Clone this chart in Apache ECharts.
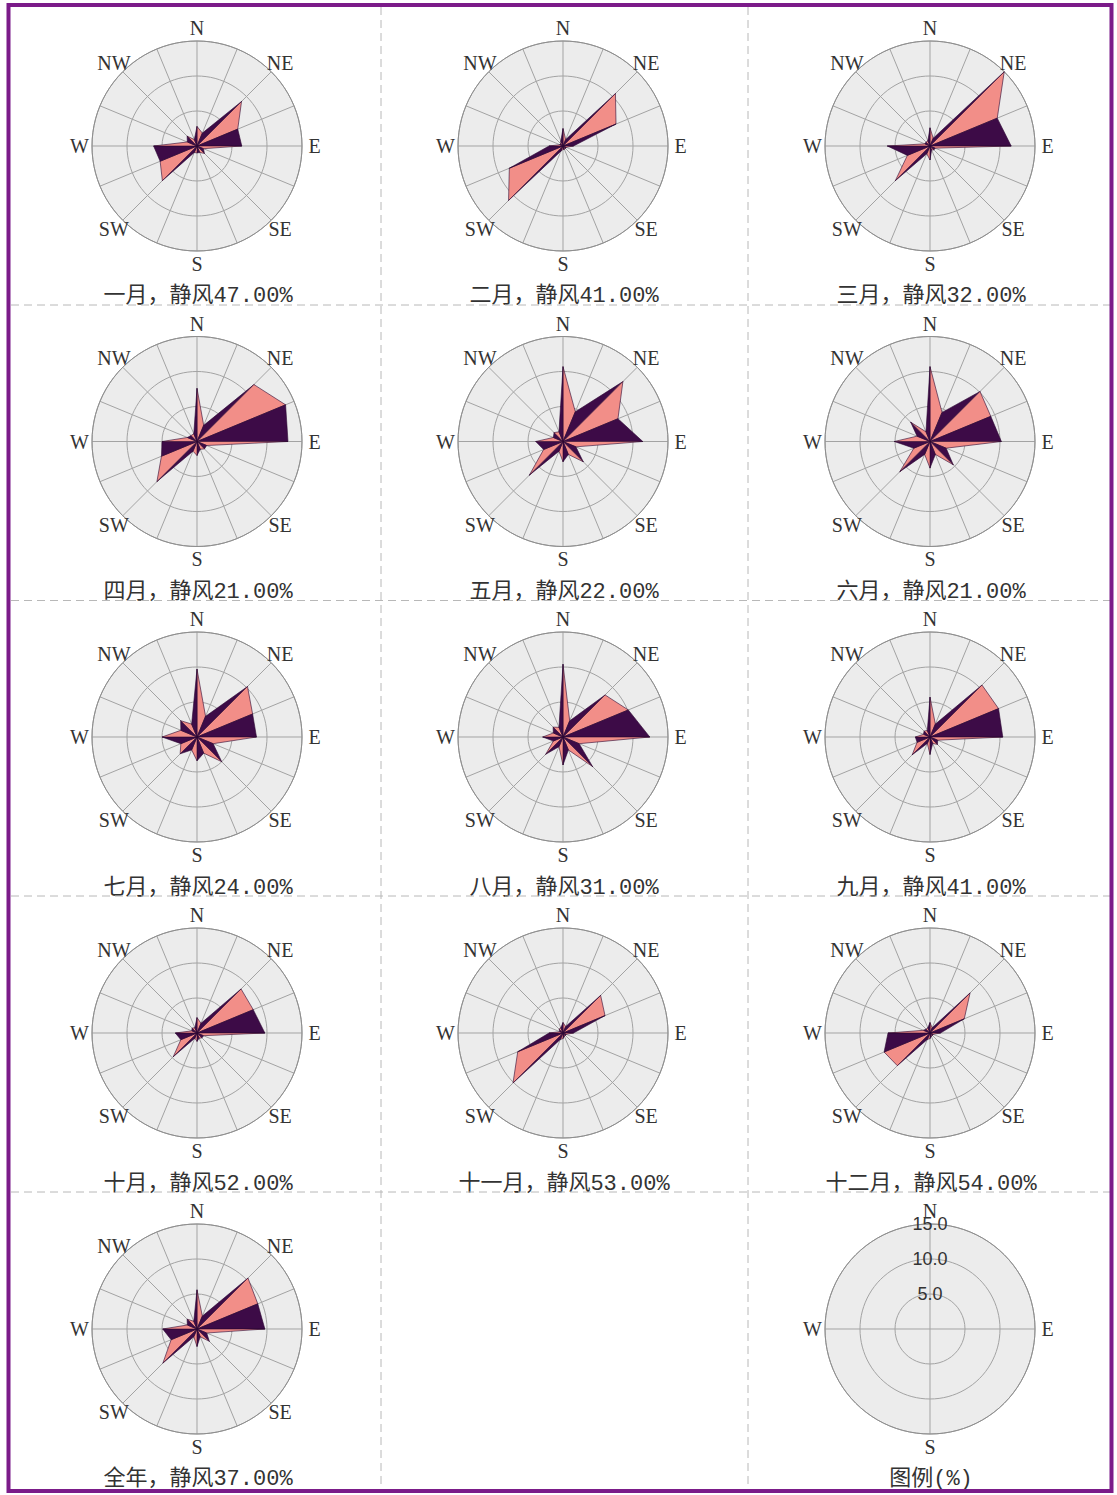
<!DOCTYPE html>
<html>
<head>
<meta charset="utf-8">
<script src="https://cdn.jsdelivr.net/npm/echarts@6/dist/echarts.min.js"></script>
<style>
  html, body { margin: 0; padding: 0; background: #ffffff; }
  #chart { width: 1117px; height: 1495px; }
</style>
</head>
<body>
<div id="chart"></div>
<script>
// 16 compass sectors, clockwise from north
const DIRECTIONS = ['N', 'NNE', 'NE', 'ENE', 'E', 'ESE', 'SE', 'SSE',
                    'S', 'SSW', 'SW', 'WSW', 'W', 'WNW', 'NW', 'NNW'];
const LABELED = ['N', 'NE', 'E', 'SE', 'S', 'SW', 'W', 'NW'];
const LEGEND_LABELED = ['N', 'E', 'S', 'W'];

// panel names and calm-wind share (%)
const PERIODS = ['一月', '二月', '三月', '四月', '五月', '六月', '七月',
                 '八月', '九月', '十月', '十一月', '十二月', '全年'];
const CALM = [47, 41, 32, 21, 22, 21, 24, 31, 41, 52, 53, 54, 37];

// wind direction frequency (%) per sector, N..NNW
const JAN = [2.8, 2.0, 9.0, 6.3, 6.4, 1.0, 1.5, 1.0, 1.0, 1.0, 7.0, 5.7, 6.2, 1.5, 2.0, 1.0];
const FEB = [2.5, 1.0, 10.6, 8.2, 1.5, 0.5, 0.5, 0.5, 0.5, 0.8, 11.0, 8.3, 2.0, 0.5, 0.5, 0.8];
const MAR = [2.6, 1.2, 15.0, 10.4, 11.6, 0.8, 0.8, 0.6, 2.0, 1.2, 7.0, 3.5, 6.1, 0.8, 0.8, 0.8];
const APR = [7.6, 2.5, 11.5, 13.7, 13.0, 1.5, 1.5, 1.2, 2.0, 1.5, 8.1, 5.5, 5.0, 1.5, 1.2, 1.2];
const MAY = [10.7, 4.6, 12.1, 8.5, 11.4, 2.0, 4.1, 2.0, 2.9, 1.5, 6.8, 3.0, 3.9, 1.5, 1.8, 1.5];
const JUN = [10.7, 4.5, 10.1, 9.4, 10.2, 2.5, 4.7, 2.0, 3.8, 2.0, 6.1, 2.5, 5.1, 2.0, 3.9, 1.5];
const JUL = [9.7, 3.2, 10.2, 8.6, 8.5, 2.5, 5.0, 2.5, 3.4, 2.0, 3.4, 2.5, 5.0, 2.5, 3.3, 2.0];
const AUG = [10.4, 2.5, 8.5, 10.1, 12.4, 2.5, 6.0, 2.0, 4.0, 1.5, 3.5, 1.5, 2.9, 1.5, 2.0, 1.5];
const SEP = [5.7, 2.0, 10.5, 10.6, 10.4, 1.2, 1.5, 1.0, 2.5, 1.0, 3.6, 2.0, 2.1, 1.0, 1.2, 1.0];
const OCT = [2.2, 1.5, 8.9, 8.7, 9.7, 1.0, 1.0, 0.8, 1.2, 0.8, 4.8, 2.5, 3.1, 0.8, 1.0, 0.8];
const NOV = [1.5, 1.0, 7.6, 6.5, 1.5, 0.5, 0.5, 0.5, 0.8, 1.0, 10.1, 7.0, 2.0, 0.5, 0.8, 0.8];
const DEC = [1.5, 0.8, 8.1, 5.3, 1.5, 0.5, 0.5, 0.5, 0.8, 1.0, 6.6, 7.1, 6.0, 1.0, 0.8, 0.8];
const YEAR = [5.6, 2.0, 10.3, 9.4, 9.7, 1.5, 2.5, 1.2, 2.5, 1.2, 6.9, 4.0, 4.9, 1.5, 2.0, 1.2];
const ROSES = [JAN, FEB, MAR, APR, MAY, JUN, JUL, AUG, SEP, OCT, NOV, DEC, YEAR];

// legend ring labels (%)
const RING_TICKS = [5, 10, 15];

// ---- layout ----
const COL_X = [197, 563, 930];
const ROW_Y = [146, 441.5, 737, 1033, 1329];
const TITLE_Y = [293.5, 589, 885, 1181, 1476];
const R_MAX = 15;
const LABEL_R = 16.8;     // direction letters sit just outside the rim
const PINK = '#f28e88';
const DARK = '#3d0b47';
const GRID = '#a3a3a3';
const TEXT = '#333333';
const TITLE_FONT = "'Liberation Mono', 'Noto Sans CJK SC', sans-serif";

const panelCount = ROSES.length + 1;   // roses + legend panel
const polar = [], angleAxis = [], radiusAxis = [], series = [], title = [];

for (let k = 0; k < panelCount; k++) {
  const col = k % 3, row = Math.floor(k / 3);
  const isLegend = k === ROSES.length;
  const cx = isLegend ? COL_X[2] : COL_X[col];
  const cy = isLegend ? ROW_Y[4] : ROW_Y[row];
  polar.push({ center: [cx, cy], radius: 105 });
  angleAxis.push({
    polarIndex: k, type: 'value', min: 0, max: 360, z: 1,
    interval: isLegend ? 90 : 22.5,
    startAngle: 90, clockwise: true,
    axisLine: { show: true, lineStyle: { color: '#8e8e8e', width: 1 } },
    axisTick: { show: false },
    axisLabel: { show: false },
    splitLine: { show: true, lineStyle: { color: GRID, width: 1 } }
  });
  radiusAxis.push({
    polarIndex: k, type: 'value', min: 0, max: R_MAX, interval: 5, z: 1,
    axisLine: { show: false }, axisTick: { show: false },
    axisLabel: isLegend ? {
      show: true, margin: 0, align: 'center', verticalAlign: 'middle',
      color: TEXT, fontSize: 18, fontFamily: "'Liberation Sans', Arial, sans-serif",
      formatter: v => (RING_TICKS.indexOf(v) >= 0 ? v.toFixed(1) : '')
    } : { show: false },
    splitLine: { show: true, lineStyle: { color: GRID, width: 1 } }
  });

  // grey disc behind the grid
  series.push({
    type: 'custom', coordinateSystem: 'polar', polarIndex: k, silent: true, z: -1,
    data: [[R_MAX, 0]],
    encode: { radius: 0, angle: 1 },
    renderItem: (params, api) => {
      const c = api.coord([0, 0]);
      const e = api.coord([api.value(0), 0]);
      return {
        type: 'circle',
        shape: { cx: c[0], cy: c[1], r: Math.hypot(e[0] - c[0], e[1] - c[1]) },
        style: { fill: '#ececec', stroke: null }
      };
    }
  });

  // compass letters around the rim
  const names = isLegend ? LEGEND_LABELED : LABELED;
  series.push({
    type: 'custom', coordinateSystem: 'polar', polarIndex: k, silent: true, z: 5,
    data: names.map(n => [LABEL_R, DIRECTIONS.indexOf(n) * 22.5, n]),
    encode: { radius: 0, angle: 1 },
    renderItem: (params, api) => {
      const p = api.coord([api.value(0), api.value(1)]);
      return {
        type: 'text', x: p[0], y: p[1],
        style: {
          text: names[params.dataIndex],
          font: "20px 'Liberation Serif', 'Times New Roman', serif",
          fill: TEXT, align: 'center', verticalAlign: 'middle',
          textAlign: 'center', textVerticalAlign: 'middle'
        }
      };
    }
  });

  if (!isLegend) {
    const vals = ROSES[k];
    // fan of 16 triangles: centre -> sector i tip -> sector i+1 tip
    series.push({
      type: 'custom', coordinateSystem: 'polar', polarIndex: k, silent: true, z: 3,
      data: vals.map((v, i) => [v, i * 22.5, vals[(i + 1) % 16], (i + 1) * 22.5]),
      encode: { radius: 0, angle: 1 },
      renderItem: (params, api) => {
        const c = api.coord([0, 0]);
        const a = api.coord([api.value(0), api.value(1)]);
        const b = api.coord([api.value(2), api.value(3)]);
        return {
          type: 'polygon',
          shape: { points: [c, a, b] },
          style: {
            fill: params.dataIndex % 2 === 0 ? PINK : DARK,
            stroke: '#2b0733', lineWidth: 0.6, lineJoin: 'miter'
          }
        };
      }
    });
  }

  title.push({
    text: isLegend ? '图例(%)' : PERIODS[k] + '，静风' + CALM[k].toFixed(2) + '%',
    left: cx - 4, top: (isLegend ? TITLE_Y[4] : TITLE_Y[row]) - 13,
    textAlign: 'center',
    textStyle: { fontFamily: TITLE_FONT, fontSize: 22, fontWeight: 'normal', color: TEXT }
  });
}

// frame and dashed panel separators
const graphic = [
  { type: 'rect', z: 100, shape: { x: 8.5, y: 5, width: 1103, height: 1486 },
    style: { fill: 'none', stroke: '#7b1b89', lineWidth: 4 } }
];
[305, 600.5, 896, 1192].forEach(y => graphic.push({
  type: 'line', z: 90, shape: { x1: 11, y1: y, x2: 1110, y2: y },
  style: { stroke: '#b8b8b8', lineWidth: 1, lineDash: [8, 5] }
}));
[381, 748].forEach(x => graphic.push({
  type: 'line', z: 90, shape: { x1: x, y1: 7, x2: x, y2: 1489 },
  style: { stroke: '#b8b8b8', lineWidth: 1, lineDash: [8, 5] }
}));

const chart = echarts.init(document.getElementById('chart'), null, { renderer: 'svg' });
chart.setOption({
  animation: false,
  backgroundColor: '#ffffff',
  title, polar, angleAxis, radiusAxis, series, graphic
});
</script>
</body>
</html>
